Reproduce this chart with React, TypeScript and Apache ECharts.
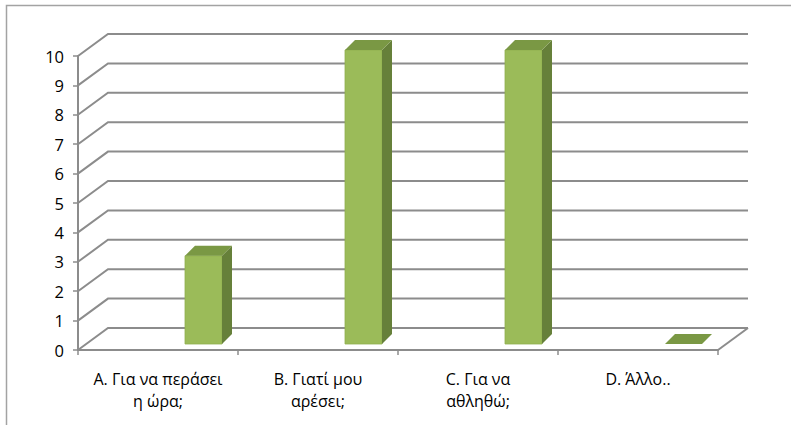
import React, { useEffect, useRef } from "react";
import * as echarts from "echarts";

const categories = [
  "A. Για να περάσει\nη ώρα;",
  "B. Γιατί μου\nαρέσει;",
  "C. Για να\nαθληθώ;",
  "D. Άλλο..",
];
const values = [3, 10, 10, 0];
const yTicks = [0, 1, 2, 3, 4, 5, 6, 7, 8, 9, 10];

const DX = 30;
const DY = -22;
const GRID_COLOR = "#8c8c8c";
const FONT = "'Open Sans', 'Noto Sans', sans-serif";

export default function App() {
  const ref = useRef<HTMLDivElement>(null);
  useEffect(() => {
    if (!ref.current) return;
    const chart = echarts.init(ref.current, null, { renderer: "svg" });
    chart.setOption({
      animation: false,
      backgroundColor: "#ffffff",
      graphic: [
        {
          type: "rect",
          shape: { x: 6.5, y: 5.5, width: 820, height: 450 },
          style: { fill: "none", stroke: "#a3a3a3", lineWidth: 1.5 },
          silent: true,
          z: 0,
        },
      ],
      grid: { left: 78, top: 56, width: 640, height: 294 },
      xAxis: {
        type: "category",
        data: categories,
        boundaryGap: true,
        axisLine: { show: true, lineStyle: { color: GRID_COLOR, width: 2 } },
        axisTick: { show: true, length: 5, lineStyle: { color: GRID_COLOR, width: 1.5 } },
        axisLabel: {
          interval: 0,
          margin: 18,
          color: "#000",
          fontSize: 16,
          lineHeight: 22,
          fontFamily: FONT,
        },
        splitLine: { show: false },
      },
      yAxis: {
        type: "value",
        min: 0,
        max: 10,
        interval: 1,
        axisLine: { show: true, lineStyle: { color: GRID_COLOR, width: 2 } },
        axisTick: { show: true, length: 5, lineStyle: { color: GRID_COLOR, width: 1.5 } },
        axisLabel: { color: "#000", fontSize: 16.5, margin: 14, fontFamily: FONT },
        splitLine: { show: false },
      },
      series: [
        {
          type: "custom",
          name: "walls",
          clip: false,
          z: 1,
          silent: true,
          data: yTicks.map((v) => [0, v]),
          renderItem: (params: any, api: any) => {
            const cs = params.coordSys;
            const v = api.value(1);
            const y = api.coord([0, v])[1];
            const left = cs.x;
            const right = cs.x + cs.width;
            const children: any[] = [
              {
                type: "polyline",
                shape: {
                  points: [
                    [left, y],
                    [left + DX, y + DY],
                    [right + DX, y + DY],
                  ],
                },
                style: { stroke: GRID_COLOR, lineWidth: 2, fill: "none" },
              },
            ];
            if (v === 0) {
              children.push({
                type: "line",
                shape: { x1: right, y1: y, x2: right + DX, y2: y + DY },
                style: { stroke: GRID_COLOR, lineWidth: 2 },
              });
            }
            return { type: "group", children };
          },
        },
        {
          type: "custom",
          name: "bars",
          clip: false,
          z: 2,
          data: values.map((v, i) => [i, v]),
          renderItem: (params: any, api: any) => {
            const idx = api.value(0);
            const v = api.value(1);
            const cx = api.coord([idx, 0])[0];
            const yBase = api.coord([idx, 0])[1] - 6;
            const yTop = api.coord([idx, v])[1] - 6;
            const l = cx + 27;
            const r = l + 37;
            const d = 10;
            const children: any[] = [];
            if (v > 0) {
              children.push({
                type: "rect",
                shape: { x: l, y: yTop, width: r - l, height: yBase - yTop },
                style: { fill: "#9bbb59", stroke: "#8fae4f", lineWidth: 0.8 },
              });
              children.push({
                type: "polygon",
                shape: {
                  points: [
                    [r, yTop],
                    [r + d, yTop - d],
                    [r + d, yBase - d],
                    [r, yBase],
                  ],
                },
                style: { fill: "#66803a" },
              });
            }
            children.push({
              type: "polygon",
              shape: {
                points: [
                  [l, yTop],
                  [l + d, yTop - d],
                  [r + d, yTop - d],
                  [r, yTop],
                ],
              },
              style: { fill: "#7a9844" },
            });
            return { type: "group", children };
          },
        },
      ],
    });
    return () => chart.dispose();
  }, []);
  return (
    <div
      ref={ref}
      style={{ position: "absolute", left: 0, top: 0, width: 791, height: 425 }}
    />
  );
}
